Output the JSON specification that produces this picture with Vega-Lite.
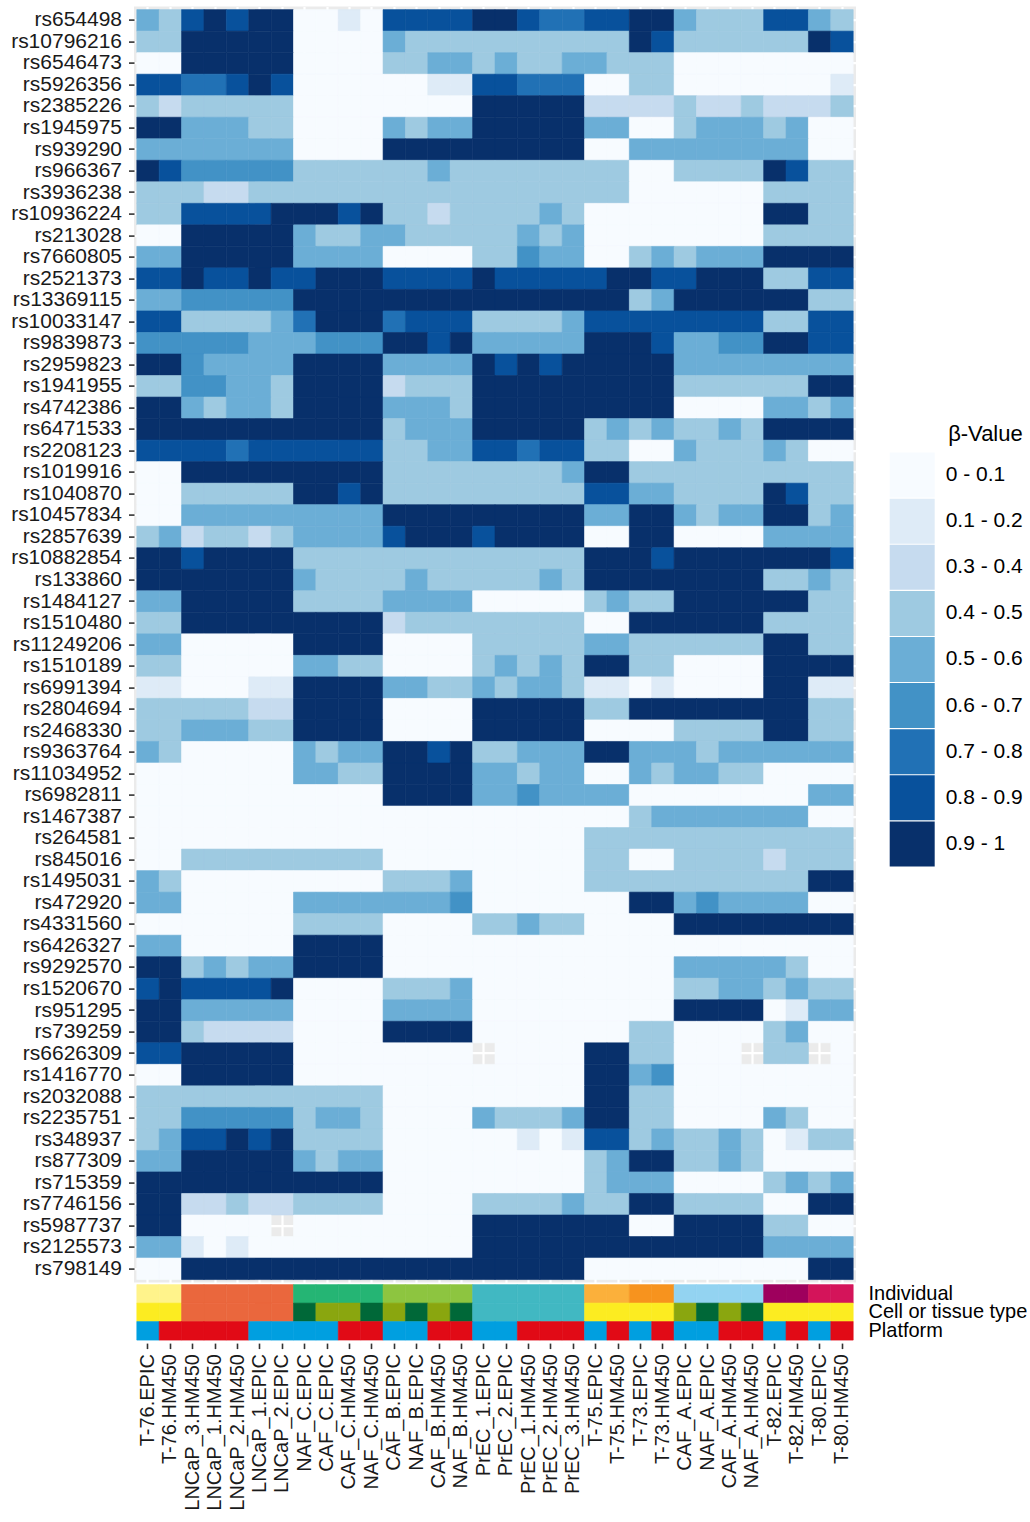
{
"$schema":"https://vega.github.io/schema/vega-lite/v6.json",
"padding":{"left":10,"top":6.6,"right":0,"bottom":0},
"config":{"font":"Liberation Sans","axis":{"labelFont":"Liberation Sans"},"legend":{"labelFont":"Liberation Sans","titleFont":"Liberation Sans"}},
"spacing":0,
"resolve":{"scale":{"color":"independent","stroke":"independent","x":"independent","y":"independent"},"legend":{"color":"independent","stroke":"independent"}},
"datasets":{
"snps":[{"r":0,"snp":"rs654498"},{"r":1,"snp":"rs10796216"},{"r":2,"snp":"rs6546473"},{"r":3,"snp":"rs5926356"},{"r":4,"snp":"rs2385226"},{"r":5,"snp":"rs1945975"},{"r":6,"snp":"rs939290"},{"r":7,"snp":"rs966367"},{"r":8,"snp":"rs3936238"},{"r":9,"snp":"rs10936224"},{"r":10,"snp":"rs213028"},{"r":11,"snp":"rs7660805"},{"r":12,"snp":"rs2521373"},{"r":13,"snp":"rs13369115"},{"r":14,"snp":"rs10033147"},{"r":15,"snp":"rs9839873"},{"r":16,"snp":"rs2959823"},{"r":17,"snp":"rs1941955"},{"r":18,"snp":"rs4742386"},{"r":19,"snp":"rs6471533"},{"r":20,"snp":"rs2208123"},{"r":21,"snp":"rs1019916"},{"r":22,"snp":"rs1040870"},{"r":23,"snp":"rs10457834"},{"r":24,"snp":"rs2857639"},{"r":25,"snp":"rs10882854"},{"r":26,"snp":"rs133860"},{"r":27,"snp":"rs1484127"},{"r":28,"snp":"rs1510480"},{"r":29,"snp":"rs11249206"},{"r":30,"snp":"rs1510189"},{"r":31,"snp":"rs6991394"},{"r":32,"snp":"rs2804694"},{"r":33,"snp":"rs2468330"},{"r":34,"snp":"rs9363764"},{"r":35,"snp":"rs11034952"},{"r":36,"snp":"rs6982811"},{"r":37,"snp":"rs1467387"},{"r":38,"snp":"rs264581"},{"r":39,"snp":"rs845016"},{"r":40,"snp":"rs1495031"},{"r":41,"snp":"rs472920"},{"r":42,"snp":"rs4331560"},{"r":43,"snp":"rs6426327"},{"r":44,"snp":"rs9292570"},{"r":45,"snp":"rs1520670"},{"r":46,"snp":"rs951295"},{"r":47,"snp":"rs739259"},{"r":48,"snp":"rs6626309"},{"r":49,"snp":"rs1416770"},{"r":50,"snp":"rs2032088"},{"r":51,"snp":"rs2235751"},{"r":52,"snp":"rs348937"},{"r":53,"snp":"rs877309"},{"r":54,"snp":"rs715359"},{"r":55,"snp":"rs7746156"},{"r":56,"snp":"rs5987737"},{"r":57,"snp":"rs2125573"},{"r":58,"snp":"rs798149"}],
"samples":[{"c":0,"sample":"T-76.EPIC"},{"c":1,"sample":"T-76.HM450"},{"c":2,"sample":"LNCaP_3.HM450"},{"c":3,"sample":"LNCaP_1.HM450"},{"c":4,"sample":"LNCaP_2.HM450"},{"c":5,"sample":"LNCaP_1.EPIC"},{"c":6,"sample":"LNCaP_2.EPIC"},{"c":7,"sample":"NAF_C.EPIC"},{"c":8,"sample":"CAF_C.EPIC"},{"c":9,"sample":"CAF_C.HM450"},{"c":10,"sample":"NAF_C.HM450"},{"c":11,"sample":"CAF_B.EPIC"},{"c":12,"sample":"NAF_B.EPIC"},{"c":13,"sample":"CAF_B.HM450"},{"c":14,"sample":"NAF_B.HM450"},{"c":15,"sample":"PrEC_1.EPIC"},{"c":16,"sample":"PrEC_2.EPIC"},{"c":17,"sample":"PrEC_1.HM450"},{"c":18,"sample":"PrEC_2.HM450"},{"c":19,"sample":"PrEC_3.HM450"},{"c":20,"sample":"T-75.EPIC"},{"c":21,"sample":"T-75.HM450"},{"c":22,"sample":"T-73.EPIC"},{"c":23,"sample":"T-73.HM450"},{"c":24,"sample":"CAF_A.EPIC"},{"c":25,"sample":"NAF_A.EPIC"},{"c":26,"sample":"CAF_A.HM450"},{"c":27,"sample":"NAF_A.HM450"},{"c":28,"sample":"T-82.EPIC"},{"c":29,"sample":"T-82.HM450"},{"c":30,"sample":"T-80.EPIC"},{"c":31,"sample":"T-80.HM450"}],
"annot":[
{"c":0,"t":"Individual","k":"T-76"},{"c":1,"t":"Individual","k":"T-76"},{"c":2,"t":"Individual","k":"LNCaP"},{"c":3,"t":"Individual","k":"LNCaP"},{"c":4,"t":"Individual","k":"LNCaP"},{"c":5,"t":"Individual","k":"LNCaP"},{"c":6,"t":"Individual","k":"LNCaP"},{"c":7,"t":"Individual","k":"Patient C"},{"c":8,"t":"Individual","k":"Patient C"},{"c":9,"t":"Individual","k":"Patient C"},{"c":10,"t":"Individual","k":"Patient C"},{"c":11,"t":"Individual","k":"Patient B"},{"c":12,"t":"Individual","k":"Patient B"},{"c":13,"t":"Individual","k":"Patient B"},{"c":14,"t":"Individual","k":"Patient B"},{"c":15,"t":"Individual","k":"PrEC"},{"c":16,"t":"Individual","k":"PrEC"},{"c":17,"t":"Individual","k":"PrEC"},{"c":18,"t":"Individual","k":"PrEC"},{"c":19,"t":"Individual","k":"PrEC"},{"c":20,"t":"Individual","k":"T-75"},{"c":21,"t":"Individual","k":"T-75"},{"c":22,"t":"Individual","k":"T-73"},{"c":23,"t":"Individual","k":"T-73"},{"c":24,"t":"Individual","k":"Patient A"},{"c":25,"t":"Individual","k":"Patient A"},{"c":26,"t":"Individual","k":"Patient A"},{"c":27,"t":"Individual","k":"Patient A"},{"c":28,"t":"Individual","k":"T-82"},{"c":29,"t":"Individual","k":"T-82"},{"c":30,"t":"Individual","k":"T-80"},{"c":31,"t":"Individual","k":"T-80"},
{"c":0,"t":"Cell or tissue type","k":"Tumour"},{"c":1,"t":"Cell or tissue type","k":"Tumour"},{"c":2,"t":"Cell or tissue type","k":"LNCaP"},{"c":3,"t":"Cell or tissue type","k":"LNCaP"},{"c":4,"t":"Cell or tissue type","k":"LNCaP"},{"c":5,"t":"Cell or tissue type","k":"LNCaP"},{"c":6,"t":"Cell or tissue type","k":"LNCaP"},{"c":7,"t":"Cell or tissue type","k":"NAF"},{"c":8,"t":"Cell or tissue type","k":"CAF"},{"c":9,"t":"Cell or tissue type","k":"CAF"},{"c":10,"t":"Cell or tissue type","k":"NAF"},{"c":11,"t":"Cell or tissue type","k":"CAF"},{"c":12,"t":"Cell or tissue type","k":"NAF"},{"c":13,"t":"Cell or tissue type","k":"CAF"},{"c":14,"t":"Cell or tissue type","k":"NAF"},{"c":15,"t":"Cell or tissue type","k":"PrEC"},{"c":16,"t":"Cell or tissue type","k":"PrEC"},{"c":17,"t":"Cell or tissue type","k":"PrEC"},{"c":18,"t":"Cell or tissue type","k":"PrEC"},{"c":19,"t":"Cell or tissue type","k":"PrEC"},{"c":20,"t":"Cell or tissue type","k":"Tumour"},{"c":21,"t":"Cell or tissue type","k":"Tumour"},{"c":22,"t":"Cell or tissue type","k":"Tumour"},{"c":23,"t":"Cell or tissue type","k":"Tumour"},{"c":24,"t":"Cell or tissue type","k":"CAF"},{"c":25,"t":"Cell or tissue type","k":"NAF"},{"c":26,"t":"Cell or tissue type","k":"CAF"},{"c":27,"t":"Cell or tissue type","k":"NAF"},{"c":28,"t":"Cell or tissue type","k":"Tumour"},{"c":29,"t":"Cell or tissue type","k":"Tumour"},{"c":30,"t":"Cell or tissue type","k":"Tumour"},{"c":31,"t":"Cell or tissue type","k":"Tumour"},
{"c":0,"t":"Platform","k":"EPIC"},{"c":1,"t":"Platform","k":"HM450"},{"c":2,"t":"Platform","k":"HM450"},{"c":3,"t":"Platform","k":"HM450"},{"c":4,"t":"Platform","k":"HM450"},{"c":5,"t":"Platform","k":"EPIC"},{"c":6,"t":"Platform","k":"EPIC"},{"c":7,"t":"Platform","k":"EPIC"},{"c":8,"t":"Platform","k":"EPIC"},{"c":9,"t":"Platform","k":"HM450"},{"c":10,"t":"Platform","k":"HM450"},{"c":11,"t":"Platform","k":"EPIC"},{"c":12,"t":"Platform","k":"EPIC"},{"c":13,"t":"Platform","k":"HM450"},{"c":14,"t":"Platform","k":"HM450"},{"c":15,"t":"Platform","k":"EPIC"},{"c":16,"t":"Platform","k":"EPIC"},{"c":17,"t":"Platform","k":"HM450"},{"c":18,"t":"Platform","k":"HM450"},{"c":19,"t":"Platform","k":"HM450"},{"c":20,"t":"Platform","k":"EPIC"},{"c":21,"t":"Platform","k":"HM450"},{"c":22,"t":"Platform","k":"EPIC"},{"c":23,"t":"Platform","k":"HM450"},{"c":24,"t":"Platform","k":"EPIC"},{"c":25,"t":"Platform","k":"EPIC"},{"c":26,"t":"Platform","k":"HM450"},{"c":27,"t":"Platform","k":"HM450"},{"c":28,"t":"Platform","k":"EPIC"},{"c":29,"t":"Platform","k":"HM450"},{"c":30,"t":"Platform","k":"EPIC"},{"c":31,"t":"Platform","k":"HM450"}],
"cells":[
{"r":0,"c":0,"v":5},{"r":0,"c":1,"v":4},{"r":0,"c":2,"v":8},{"r":0,"c":3,"v":9},{"r":0,"c":4,"v":8},{"r":0,"c":5,"v":9},{"r":0,"c":6,"v":9},{"r":0,"c":7,"v":0},{"r":0,"c":8,"v":0},{"r":0,"c":9,"v":1},{"r":0,"c":10,"v":0},{"r":0,"c":11,"v":8},{"r":0,"c":12,"v":8},{"r":0,"c":13,"v":8},{"r":0,"c":14,"v":8},{"r":0,"c":15,"v":9},{"r":0,"c":16,"v":9},{"r":0,"c":17,"v":8},{"r":0,"c":18,"v":7},{"r":0,"c":19,"v":7},{"r":0,"c":20,"v":8},{"r":0,"c":21,"v":8},{"r":0,"c":22,"v":9},{"r":0,"c":23,"v":9},{"r":0,"c":24,"v":5},{"r":0,"c":25,"v":4},{"r":0,"c":26,"v":4},{"r":0,"c":27,"v":4},{"r":0,"c":28,"v":8},{"r":0,"c":29,"v":8},{"r":0,"c":30,"v":5},{"r":0,"c":31,"v":4},
{"r":1,"c":0,"v":4},{"r":1,"c":1,"v":4},{"r":1,"c":2,"v":9},{"r":1,"c":3,"v":9},{"r":1,"c":4,"v":9},{"r":1,"c":5,"v":9},{"r":1,"c":6,"v":9},{"r":1,"c":7,"v":0},{"r":1,"c":8,"v":0},{"r":1,"c":9,"v":0},{"r":1,"c":10,"v":0},{"r":1,"c":11,"v":5},{"r":1,"c":12,"v":4},{"r":1,"c":13,"v":4},{"r":1,"c":14,"v":4},{"r":1,"c":15,"v":4},{"r":1,"c":16,"v":4},{"r":1,"c":17,"v":4},{"r":1,"c":18,"v":4},{"r":1,"c":19,"v":4},{"r":1,"c":20,"v":4},{"r":1,"c":21,"v":4},{"r":1,"c":22,"v":9},{"r":1,"c":23,"v":8},{"r":1,"c":24,"v":4},{"r":1,"c":25,"v":4},{"r":1,"c":26,"v":4},{"r":1,"c":27,"v":4},{"r":1,"c":28,"v":4},{"r":1,"c":29,"v":4},{"r":1,"c":30,"v":9},{"r":1,"c":31,"v":8},
{"r":2,"c":0,"v":0},{"r":2,"c":1,"v":0},{"r":2,"c":2,"v":9},{"r":2,"c":3,"v":9},{"r":2,"c":4,"v":9},{"r":2,"c":5,"v":9},{"r":2,"c":6,"v":9},{"r":2,"c":7,"v":0},{"r":2,"c":8,"v":0},{"r":2,"c":9,"v":0},{"r":2,"c":10,"v":0},{"r":2,"c":11,"v":4},{"r":2,"c":12,"v":4},{"r":2,"c":13,"v":5},{"r":2,"c":14,"v":5},{"r":2,"c":15,"v":4},{"r":2,"c":16,"v":5},{"r":2,"c":17,"v":4},{"r":2,"c":18,"v":4},{"r":2,"c":19,"v":5},{"r":2,"c":20,"v":5},{"r":2,"c":21,"v":4},{"r":2,"c":22,"v":4},{"r":2,"c":23,"v":4},{"r":2,"c":24,"v":0},{"r":2,"c":25,"v":0},{"r":2,"c":26,"v":0},{"r":2,"c":27,"v":0},{"r":2,"c":28,"v":0},{"r":2,"c":29,"v":0},{"r":2,"c":30,"v":0},{"r":2,"c":31,"v":0},
{"r":3,"c":0,"v":8},{"r":3,"c":1,"v":8},{"r":3,"c":2,"v":7},{"r":3,"c":3,"v":7},{"r":3,"c":4,"v":8},{"r":3,"c":5,"v":9},{"r":3,"c":6,"v":8},{"r":3,"c":7,"v":0},{"r":3,"c":8,"v":0},{"r":3,"c":9,"v":0},{"r":3,"c":10,"v":0},{"r":3,"c":11,"v":0},{"r":3,"c":12,"v":0},{"r":3,"c":13,"v":1},{"r":3,"c":14,"v":1},{"r":3,"c":15,"v":8},{"r":3,"c":16,"v":8},{"r":3,"c":17,"v":7},{"r":3,"c":18,"v":7},{"r":3,"c":19,"v":7},{"r":3,"c":20,"v":0},{"r":3,"c":21,"v":0},{"r":3,"c":22,"v":4},{"r":3,"c":23,"v":4},{"r":3,"c":24,"v":0},{"r":3,"c":25,"v":0},{"r":3,"c":26,"v":0},{"r":3,"c":27,"v":0},{"r":3,"c":28,"v":0},{"r":3,"c":29,"v":0},{"r":3,"c":30,"v":0},{"r":3,"c":31,"v":1},
{"r":4,"c":0,"v":4},{"r":4,"c":1,"v":3},{"r":4,"c":2,"v":4},{"r":4,"c":3,"v":4},{"r":4,"c":4,"v":4},{"r":4,"c":5,"v":4},{"r":4,"c":6,"v":4},{"r":4,"c":7,"v":0},{"r":4,"c":8,"v":0},{"r":4,"c":9,"v":0},{"r":4,"c":10,"v":0},{"r":4,"c":11,"v":0},{"r":4,"c":12,"v":0},{"r":4,"c":13,"v":0},{"r":4,"c":14,"v":0},{"r":4,"c":15,"v":9},{"r":4,"c":16,"v":9},{"r":4,"c":17,"v":9},{"r":4,"c":18,"v":9},{"r":4,"c":19,"v":9},{"r":4,"c":20,"v":3},{"r":4,"c":21,"v":3},{"r":4,"c":22,"v":3},{"r":4,"c":23,"v":3},{"r":4,"c":24,"v":4},{"r":4,"c":25,"v":3},{"r":4,"c":26,"v":3},{"r":4,"c":27,"v":4},{"r":4,"c":28,"v":3},{"r":4,"c":29,"v":3},{"r":4,"c":30,"v":3},{"r":4,"c":31,"v":4},
{"r":5,"c":0,"v":9},{"r":5,"c":1,"v":9},{"r":5,"c":2,"v":5},{"r":5,"c":3,"v":5},{"r":5,"c":4,"v":5},{"r":5,"c":5,"v":4},{"r":5,"c":6,"v":4},{"r":5,"c":7,"v":0},{"r":5,"c":8,"v":0},{"r":5,"c":9,"v":0},{"r":5,"c":10,"v":0},{"r":5,"c":11,"v":5},{"r":5,"c":12,"v":4},{"r":5,"c":13,"v":5},{"r":5,"c":14,"v":5},{"r":5,"c":15,"v":9},{"r":5,"c":16,"v":9},{"r":5,"c":17,"v":9},{"r":5,"c":18,"v":9},{"r":5,"c":19,"v":9},{"r":5,"c":20,"v":5},{"r":5,"c":21,"v":5},{"r":5,"c":22,"v":0},{"r":5,"c":23,"v":0},{"r":5,"c":24,"v":4},{"r":5,"c":25,"v":5},{"r":5,"c":26,"v":5},{"r":5,"c":27,"v":5},{"r":5,"c":28,"v":4},{"r":5,"c":29,"v":5},{"r":5,"c":30,"v":0},{"r":5,"c":31,"v":0},
{"r":6,"c":0,"v":5},{"r":6,"c":1,"v":5},{"r":6,"c":2,"v":5},{"r":6,"c":3,"v":5},{"r":6,"c":4,"v":5},{"r":6,"c":5,"v":5},{"r":6,"c":6,"v":5},{"r":6,"c":7,"v":0},{"r":6,"c":8,"v":0},{"r":6,"c":9,"v":0},{"r":6,"c":10,"v":0},{"r":6,"c":11,"v":9},{"r":6,"c":12,"v":9},{"r":6,"c":13,"v":9},{"r":6,"c":14,"v":9},{"r":6,"c":15,"v":9},{"r":6,"c":16,"v":9},{"r":6,"c":17,"v":9},{"r":6,"c":18,"v":9},{"r":6,"c":19,"v":9},{"r":6,"c":20,"v":0},{"r":6,"c":21,"v":0},{"r":6,"c":22,"v":5},{"r":6,"c":23,"v":5},{"r":6,"c":24,"v":5},{"r":6,"c":25,"v":5},{"r":6,"c":26,"v":5},{"r":6,"c":27,"v":5},{"r":6,"c":28,"v":5},{"r":6,"c":29,"v":5},{"r":6,"c":30,"v":0},{"r":6,"c":31,"v":0},
{"r":7,"c":0,"v":9},{"r":7,"c":1,"v":8},{"r":7,"c":2,"v":6},{"r":7,"c":3,"v":6},{"r":7,"c":4,"v":6},{"r":7,"c":5,"v":6},{"r":7,"c":6,"v":6},{"r":7,"c":7,"v":4},{"r":7,"c":8,"v":4},{"r":7,"c":9,"v":4},{"r":7,"c":10,"v":4},{"r":7,"c":11,"v":4},{"r":7,"c":12,"v":4},{"r":7,"c":13,"v":5},{"r":7,"c":14,"v":4},{"r":7,"c":15,"v":4},{"r":7,"c":16,"v":4},{"r":7,"c":17,"v":4},{"r":7,"c":18,"v":4},{"r":7,"c":19,"v":4},{"r":7,"c":20,"v":4},{"r":7,"c":21,"v":4},{"r":7,"c":22,"v":0},{"r":7,"c":23,"v":0},{"r":7,"c":24,"v":4},{"r":7,"c":25,"v":4},{"r":7,"c":26,"v":4},{"r":7,"c":27,"v":4},{"r":7,"c":28,"v":9},{"r":7,"c":29,"v":8},{"r":7,"c":30,"v":4},{"r":7,"c":31,"v":4},
{"r":8,"c":0,"v":4},{"r":8,"c":1,"v":4},{"r":8,"c":2,"v":4},{"r":8,"c":3,"v":3},{"r":8,"c":4,"v":3},{"r":8,"c":5,"v":4},{"r":8,"c":6,"v":4},{"r":8,"c":7,"v":4},{"r":8,"c":8,"v":4},{"r":8,"c":9,"v":4},{"r":8,"c":10,"v":4},{"r":8,"c":11,"v":4},{"r":8,"c":12,"v":4},{"r":8,"c":13,"v":4},{"r":8,"c":14,"v":4},{"r":8,"c":15,"v":4},{"r":8,"c":16,"v":4},{"r":8,"c":17,"v":4},{"r":8,"c":18,"v":4},{"r":8,"c":19,"v":4},{"r":8,"c":20,"v":4},{"r":8,"c":21,"v":4},{"r":8,"c":22,"v":0},{"r":8,"c":23,"v":0},{"r":8,"c":24,"v":0},{"r":8,"c":25,"v":0},{"r":8,"c":26,"v":0},{"r":8,"c":27,"v":0},{"r":8,"c":28,"v":4},{"r":8,"c":29,"v":4},{"r":8,"c":30,"v":4},{"r":8,"c":31,"v":4},
{"r":9,"c":0,"v":4},{"r":9,"c":1,"v":4},{"r":9,"c":2,"v":8},{"r":9,"c":3,"v":8},{"r":9,"c":4,"v":8},{"r":9,"c":5,"v":8},{"r":9,"c":6,"v":9},{"r":9,"c":7,"v":9},{"r":9,"c":8,"v":9},{"r":9,"c":9,"v":8},{"r":9,"c":10,"v":9},{"r":9,"c":11,"v":4},{"r":9,"c":12,"v":4},{"r":9,"c":13,"v":3},{"r":9,"c":14,"v":4},{"r":9,"c":15,"v":4},{"r":9,"c":16,"v":4},{"r":9,"c":17,"v":4},{"r":9,"c":18,"v":5},{"r":9,"c":19,"v":4},{"r":9,"c":20,"v":0},{"r":9,"c":21,"v":0},{"r":9,"c":22,"v":0},{"r":9,"c":23,"v":0},{"r":9,"c":24,"v":0},{"r":9,"c":25,"v":0},{"r":9,"c":26,"v":0},{"r":9,"c":27,"v":0},{"r":9,"c":28,"v":9},{"r":9,"c":29,"v":9},{"r":9,"c":30,"v":4},{"r":9,"c":31,"v":4},
{"r":10,"c":0,"v":0},{"r":10,"c":1,"v":0},{"r":10,"c":2,"v":9},{"r":10,"c":3,"v":9},{"r":10,"c":4,"v":9},{"r":10,"c":5,"v":9},{"r":10,"c":6,"v":9},{"r":10,"c":7,"v":5},{"r":10,"c":8,"v":4},{"r":10,"c":9,"v":4},{"r":10,"c":10,"v":5},{"r":10,"c":11,"v":5},{"r":10,"c":12,"v":4},{"r":10,"c":13,"v":4},{"r":10,"c":14,"v":4},{"r":10,"c":15,"v":4},{"r":10,"c":16,"v":4},{"r":10,"c":17,"v":5},{"r":10,"c":18,"v":4},{"r":10,"c":19,"v":5},{"r":10,"c":20,"v":0},{"r":10,"c":21,"v":0},{"r":10,"c":22,"v":0},{"r":10,"c":23,"v":0},{"r":10,"c":24,"v":0},{"r":10,"c":25,"v":0},{"r":10,"c":26,"v":0},{"r":10,"c":27,"v":0},{"r":10,"c":28,"v":4},{"r":10,"c":29,"v":4},{"r":10,"c":30,"v":4},{"r":10,"c":31,"v":4},
{"r":11,"c":0,"v":5},{"r":11,"c":1,"v":5},{"r":11,"c":2,"v":9},{"r":11,"c":3,"v":9},{"r":11,"c":4,"v":9},{"r":11,"c":5,"v":9},{"r":11,"c":6,"v":9},{"r":11,"c":7,"v":5},{"r":11,"c":8,"v":5},{"r":11,"c":9,"v":5},{"r":11,"c":10,"v":5},{"r":11,"c":11,"v":0},{"r":11,"c":12,"v":0},{"r":11,"c":13,"v":0},{"r":11,"c":14,"v":0},{"r":11,"c":15,"v":4},{"r":11,"c":16,"v":4},{"r":11,"c":17,"v":6},{"r":11,"c":18,"v":5},{"r":11,"c":19,"v":5},{"r":11,"c":20,"v":0},{"r":11,"c":21,"v":0},{"r":11,"c":22,"v":4},{"r":11,"c":23,"v":5},{"r":11,"c":24,"v":4},{"r":11,"c":25,"v":5},{"r":11,"c":26,"v":5},{"r":11,"c":27,"v":5},{"r":11,"c":28,"v":9},{"r":11,"c":29,"v":9},{"r":11,"c":30,"v":9},{"r":11,"c":31,"v":9},
{"r":12,"c":0,"v":8},{"r":12,"c":1,"v":8},{"r":12,"c":2,"v":9},{"r":12,"c":3,"v":8},{"r":12,"c":4,"v":8},{"r":12,"c":5,"v":9},{"r":12,"c":6,"v":8},{"r":12,"c":7,"v":8},{"r":12,"c":8,"v":9},{"r":12,"c":9,"v":9},{"r":12,"c":10,"v":9},{"r":12,"c":11,"v":8},{"r":12,"c":12,"v":8},{"r":12,"c":13,"v":8},{"r":12,"c":14,"v":8},{"r":12,"c":15,"v":9},{"r":12,"c":16,"v":8},{"r":12,"c":17,"v":8},{"r":12,"c":18,"v":8},{"r":12,"c":19,"v":8},{"r":12,"c":20,"v":8},{"r":12,"c":21,"v":9},{"r":12,"c":22,"v":9},{"r":12,"c":23,"v":8},{"r":12,"c":24,"v":8},{"r":12,"c":25,"v":9},{"r":12,"c":26,"v":9},{"r":12,"c":27,"v":9},{"r":12,"c":28,"v":4},{"r":12,"c":29,"v":4},{"r":12,"c":30,"v":8},{"r":12,"c":31,"v":8},
{"r":13,"c":0,"v":5},{"r":13,"c":1,"v":5},{"r":13,"c":2,"v":6},{"r":13,"c":3,"v":6},{"r":13,"c":4,"v":6},{"r":13,"c":5,"v":6},{"r":13,"c":6,"v":6},{"r":13,"c":7,"v":9},{"r":13,"c":8,"v":9},{"r":13,"c":9,"v":9},{"r":13,"c":10,"v":9},{"r":13,"c":11,"v":9},{"r":13,"c":12,"v":9},{"r":13,"c":13,"v":9},{"r":13,"c":14,"v":9},{"r":13,"c":15,"v":9},{"r":13,"c":16,"v":9},{"r":13,"c":17,"v":9},{"r":13,"c":18,"v":9},{"r":13,"c":19,"v":9},{"r":13,"c":20,"v":9},{"r":13,"c":21,"v":9},{"r":13,"c":22,"v":4},{"r":13,"c":23,"v":5},{"r":13,"c":24,"v":9},{"r":13,"c":25,"v":9},{"r":13,"c":26,"v":9},{"r":13,"c":27,"v":9},{"r":13,"c":28,"v":9},{"r":13,"c":29,"v":9},{"r":13,"c":30,"v":4},{"r":13,"c":31,"v":4},
{"r":14,"c":0,"v":8},{"r":14,"c":1,"v":8},{"r":14,"c":2,"v":4},{"r":14,"c":3,"v":4},{"r":14,"c":4,"v":4},{"r":14,"c":5,"v":4},{"r":14,"c":6,"v":5},{"r":14,"c":7,"v":7},{"r":14,"c":8,"v":9},{"r":14,"c":9,"v":9},{"r":14,"c":10,"v":9},{"r":14,"c":11,"v":7},{"r":14,"c":12,"v":8},{"r":14,"c":13,"v":8},{"r":14,"c":14,"v":8},{"r":14,"c":15,"v":4},{"r":14,"c":16,"v":4},{"r":14,"c":17,"v":4},{"r":14,"c":18,"v":4},{"r":14,"c":19,"v":5},{"r":14,"c":20,"v":8},{"r":14,"c":21,"v":8},{"r":14,"c":22,"v":8},{"r":14,"c":23,"v":8},{"r":14,"c":24,"v":8},{"r":14,"c":25,"v":8},{"r":14,"c":26,"v":8},{"r":14,"c":27,"v":8},{"r":14,"c":28,"v":4},{"r":14,"c":29,"v":4},{"r":14,"c":30,"v":8},{"r":14,"c":31,"v":8},
{"r":15,"c":0,"v":6},{"r":15,"c":1,"v":6},{"r":15,"c":2,"v":6},{"r":15,"c":3,"v":6},{"r":15,"c":4,"v":6},{"r":15,"c":5,"v":5},{"r":15,"c":6,"v":5},{"r":15,"c":7,"v":5},{"r":15,"c":8,"v":6},{"r":15,"c":9,"v":6},{"r":15,"c":10,"v":6},{"r":15,"c":11,"v":9},{"r":15,"c":12,"v":9},{"r":15,"c":13,"v":8},{"r":15,"c":14,"v":9},{"r":15,"c":15,"v":5},{"r":15,"c":16,"v":5},{"r":15,"c":17,"v":5},{"r":15,"c":18,"v":5},{"r":15,"c":19,"v":5},{"r":15,"c":20,"v":9},{"r":15,"c":21,"v":9},{"r":15,"c":22,"v":9},{"r":15,"c":23,"v":8},{"r":15,"c":24,"v":5},{"r":15,"c":25,"v":5},{"r":15,"c":26,"v":6},{"r":15,"c":27,"v":6},{"r":15,"c":28,"v":9},{"r":15,"c":29,"v":9},{"r":15,"c":30,"v":8},{"r":15,"c":31,"v":8},
{"r":16,"c":0,"v":9},{"r":16,"c":1,"v":9},{"r":16,"c":2,"v":6},{"r":16,"c":3,"v":5},{"r":16,"c":4,"v":5},{"r":16,"c":5,"v":5},{"r":16,"c":6,"v":5},{"r":16,"c":7,"v":9},{"r":16,"c":8,"v":9},{"r":16,"c":9,"v":9},{"r":16,"c":10,"v":9},{"r":16,"c":11,"v":5},{"r":16,"c":12,"v":5},{"r":16,"c":13,"v":5},{"r":16,"c":14,"v":5},{"r":16,"c":15,"v":9},{"r":16,"c":16,"v":8},{"r":16,"c":17,"v":9},{"r":16,"c":18,"v":8},{"r":16,"c":19,"v":9},{"r":16,"c":20,"v":9},{"r":16,"c":21,"v":9},{"r":16,"c":22,"v":9},{"r":16,"c":23,"v":9},{"r":16,"c":24,"v":5},{"r":16,"c":25,"v":5},{"r":16,"c":26,"v":5},{"r":16,"c":27,"v":5},{"r":16,"c":28,"v":5},{"r":16,"c":29,"v":5},{"r":16,"c":30,"v":5},{"r":16,"c":31,"v":5},
{"r":17,"c":0,"v":4},{"r":17,"c":1,"v":4},{"r":17,"c":2,"v":6},{"r":17,"c":3,"v":6},{"r":17,"c":4,"v":5},{"r":17,"c":5,"v":5},{"r":17,"c":6,"v":4},{"r":17,"c":7,"v":9},{"r":17,"c":8,"v":9},{"r":17,"c":9,"v":9},{"r":17,"c":10,"v":9},{"r":17,"c":11,"v":3},{"r":17,"c":12,"v":4},{"r":17,"c":13,"v":4},{"r":17,"c":14,"v":4},{"r":17,"c":15,"v":9},{"r":17,"c":16,"v":9},{"r":17,"c":17,"v":9},{"r":17,"c":18,"v":9},{"r":17,"c":19,"v":9},{"r":17,"c":20,"v":9},{"r":17,"c":21,"v":9},{"r":17,"c":22,"v":9},{"r":17,"c":23,"v":9},{"r":17,"c":24,"v":4},{"r":17,"c":25,"v":4},{"r":17,"c":26,"v":4},{"r":17,"c":27,"v":4},{"r":17,"c":28,"v":4},{"r":17,"c":29,"v":4},{"r":17,"c":30,"v":9},{"r":17,"c":31,"v":9},
{"r":18,"c":0,"v":9},{"r":18,"c":1,"v":9},{"r":18,"c":2,"v":5},{"r":18,"c":3,"v":4},{"r":18,"c":4,"v":5},{"r":18,"c":5,"v":5},{"r":18,"c":6,"v":4},{"r":18,"c":7,"v":9},{"r":18,"c":8,"v":9},{"r":18,"c":9,"v":9},{"r":18,"c":10,"v":9},{"r":18,"c":11,"v":5},{"r":18,"c":12,"v":5},{"r":18,"c":13,"v":5},{"r":18,"c":14,"v":4},{"r":18,"c":15,"v":9},{"r":18,"c":16,"v":9},{"r":18,"c":17,"v":9},{"r":18,"c":18,"v":9},{"r":18,"c":19,"v":9},{"r":18,"c":20,"v":9},{"r":18,"c":21,"v":9},{"r":18,"c":22,"v":9},{"r":18,"c":23,"v":9},{"r":18,"c":24,"v":0},{"r":18,"c":25,"v":0},{"r":18,"c":26,"v":0},{"r":18,"c":27,"v":0},{"r":18,"c":28,"v":5},{"r":18,"c":29,"v":5},{"r":18,"c":30,"v":4},{"r":18,"c":31,"v":5},
{"r":19,"c":0,"v":9},{"r":19,"c":1,"v":9},{"r":19,"c":2,"v":9},{"r":19,"c":3,"v":9},{"r":19,"c":4,"v":9},{"r":19,"c":5,"v":9},{"r":19,"c":6,"v":9},{"r":19,"c":7,"v":9},{"r":19,"c":8,"v":9},{"r":19,"c":9,"v":9},{"r":19,"c":10,"v":9},{"r":19,"c":11,"v":4},{"r":19,"c":12,"v":5},{"r":19,"c":13,"v":5},{"r":19,"c":14,"v":5},{"r":19,"c":15,"v":9},{"r":19,"c":16,"v":9},{"r":19,"c":17,"v":9},{"r":19,"c":18,"v":9},{"r":19,"c":19,"v":9},{"r":19,"c":20,"v":4},{"r":19,"c":21,"v":5},{"r":19,"c":22,"v":4},{"r":19,"c":23,"v":5},{"r":19,"c":24,"v":4},{"r":19,"c":25,"v":4},{"r":19,"c":26,"v":5},{"r":19,"c":27,"v":4},{"r":19,"c":28,"v":9},{"r":19,"c":29,"v":9},{"r":19,"c":30,"v":9},{"r":19,"c":31,"v":9},
{"r":20,"c":0,"v":8},{"r":20,"c":1,"v":8},{"r":20,"c":2,"v":8},{"r":20,"c":3,"v":8},{"r":20,"c":4,"v":7},{"r":20,"c":5,"v":8},{"r":20,"c":6,"v":8},{"r":20,"c":7,"v":8},{"r":20,"c":8,"v":8},{"r":20,"c":9,"v":8},{"r":20,"c":10,"v":8},{"r":20,"c":11,"v":4},{"r":20,"c":12,"v":4},{"r":20,"c":13,"v":5},{"r":20,"c":14,"v":5},{"r":20,"c":15,"v":8},{"r":20,"c":16,"v":8},{"r":20,"c":17,"v":7},{"r":20,"c":18,"v":8},{"r":20,"c":19,"v":8},{"r":20,"c":20,"v":4},{"r":20,"c":21,"v":4},{"r":20,"c":22,"v":0},{"r":20,"c":23,"v":0},{"r":20,"c":24,"v":5},{"r":20,"c":25,"v":4},{"r":20,"c":26,"v":4},{"r":20,"c":27,"v":4},{"r":20,"c":28,"v":5},{"r":20,"c":29,"v":4},{"r":20,"c":30,"v":0},{"r":20,"c":31,"v":0},
{"r":21,"c":0,"v":0},{"r":21,"c":1,"v":0},{"r":21,"c":2,"v":9},{"r":21,"c":3,"v":9},{"r":21,"c":4,"v":9},{"r":21,"c":5,"v":9},{"r":21,"c":6,"v":9},{"r":21,"c":7,"v":9},{"r":21,"c":8,"v":9},{"r":21,"c":9,"v":9},{"r":21,"c":10,"v":9},{"r":21,"c":11,"v":4},{"r":21,"c":12,"v":4},{"r":21,"c":13,"v":4},{"r":21,"c":14,"v":4},{"r":21,"c":15,"v":4},{"r":21,"c":16,"v":4},{"r":21,"c":17,"v":4},{"r":21,"c":18,"v":4},{"r":21,"c":19,"v":5},{"r":21,"c":20,"v":9},{"r":21,"c":21,"v":9},{"r":21,"c":22,"v":4},{"r":21,"c":23,"v":4},{"r":21,"c":24,"v":4},{"r":21,"c":25,"v":4},{"r":21,"c":26,"v":4},{"r":21,"c":27,"v":4},{"r":21,"c":28,"v":4},{"r":21,"c":29,"v":4},{"r":21,"c":30,"v":4},{"r":21,"c":31,"v":4},
{"r":22,"c":0,"v":0},{"r":22,"c":1,"v":0},{"r":22,"c":2,"v":4},{"r":22,"c":3,"v":4},{"r":22,"c":4,"v":4},{"r":22,"c":5,"v":4},{"r":22,"c":6,"v":4},{"r":22,"c":7,"v":9},{"r":22,"c":8,"v":9},{"r":22,"c":9,"v":8},{"r":22,"c":10,"v":9},{"r":22,"c":11,"v":4},{"r":22,"c":12,"v":4},{"r":22,"c":13,"v":4},{"r":22,"c":14,"v":4},{"r":22,"c":15,"v":4},{"r":22,"c":16,"v":4},{"r":22,"c":17,"v":4},{"r":22,"c":18,"v":4},{"r":22,"c":19,"v":4},{"r":22,"c":20,"v":8},{"r":22,"c":21,"v":8},{"r":22,"c":22,"v":5},{"r":22,"c":23,"v":5},{"r":22,"c":24,"v":4},{"r":22,"c":25,"v":4},{"r":22,"c":26,"v":4},{"r":22,"c":27,"v":4},{"r":22,"c":28,"v":9},{"r":22,"c":29,"v":8},{"r":22,"c":30,"v":4},{"r":22,"c":31,"v":4},
{"r":23,"c":0,"v":0},{"r":23,"c":1,"v":0},{"r":23,"c":2,"v":5},{"r":23,"c":3,"v":5},{"r":23,"c":4,"v":5},{"r":23,"c":5,"v":5},{"r":23,"c":6,"v":5},{"r":23,"c":7,"v":5},{"r":23,"c":8,"v":5},{"r":23,"c":9,"v":5},{"r":23,"c":10,"v":5},{"r":23,"c":11,"v":9},{"r":23,"c":12,"v":9},{"r":23,"c":13,"v":9},{"r":23,"c":14,"v":9},{"r":23,"c":15,"v":9},{"r":23,"c":16,"v":9},{"r":23,"c":17,"v":9},{"r":23,"c":18,"v":9},{"r":23,"c":19,"v":9},{"r":23,"c":20,"v":5},{"r":23,"c":21,"v":5},{"r":23,"c":22,"v":9},{"r":23,"c":23,"v":9},{"r":23,"c":24,"v":5},{"r":23,"c":25,"v":4},{"r":23,"c":26,"v":5},{"r":23,"c":27,"v":5},{"r":23,"c":28,"v":9},{"r":23,"c":29,"v":9},{"r":23,"c":30,"v":4},{"r":23,"c":31,"v":5},
{"r":24,"c":0,"v":4},{"r":24,"c":1,"v":5},{"r":24,"c":2,"v":3},{"r":24,"c":3,"v":4},{"r":24,"c":4,"v":4},{"r":24,"c":5,"v":3},{"r":24,"c":6,"v":4},{"r":24,"c":7,"v":5},{"r":24,"c":8,"v":5},{"r":24,"c":9,"v":5},{"r":24,"c":10,"v":5},{"r":24,"c":11,"v":8},{"r":24,"c":12,"v":9},{"r":24,"c":13,"v":9},{"r":24,"c":14,"v":9},{"r":24,"c":15,"v":8},{"r":24,"c":16,"v":9},{"r":24,"c":17,"v":9},{"r":24,"c":18,"v":9},{"r":24,"c":19,"v":9},{"r":24,"c":20,"v":0},{"r":24,"c":21,"v":0},{"r":24,"c":22,"v":9},{"r":24,"c":23,"v":9},{"r":24,"c":24,"v":0},{"r":24,"c":25,"v":0},{"r":24,"c":26,"v":0},{"r":24,"c":27,"v":0},{"r":24,"c":28,"v":5},{"r":24,"c":29,"v":5},{"r":24,"c":30,"v":5},{"r":24,"c":31,"v":5},
{"r":25,"c":0,"v":9},{"r":25,"c":1,"v":9},{"r":25,"c":2,"v":8},{"r":25,"c":3,"v":9},{"r":25,"c":4,"v":9},{"r":25,"c":5,"v":9},{"r":25,"c":6,"v":9},{"r":25,"c":7,"v":4},{"r":25,"c":8,"v":4},{"r":25,"c":9,"v":4},{"r":25,"c":10,"v":4},{"r":25,"c":11,"v":4},{"r":25,"c":12,"v":4},{"r":25,"c":13,"v":4},{"r":25,"c":14,"v":4},{"r":25,"c":15,"v":4},{"r":25,"c":16,"v":4},{"r":25,"c":17,"v":4},{"r":25,"c":18,"v":4},{"r":25,"c":19,"v":4},{"r":25,"c":20,"v":9},{"r":25,"c":21,"v":9},{"r":25,"c":22,"v":9},{"r":25,"c":23,"v":8},{"r":25,"c":24,"v":9},{"r":25,"c":25,"v":9},{"r":25,"c":26,"v":9},{"r":25,"c":27,"v":9},{"r":25,"c":28,"v":9},{"r":25,"c":29,"v":9},{"r":25,"c":30,"v":9},{"r":25,"c":31,"v":8},
{"r":26,"c":0,"v":9},{"r":26,"c":1,"v":9},{"r":26,"c":2,"v":9},{"r":26,"c":3,"v":9},{"r":26,"c":4,"v":9},{"r":26,"c":5,"v":9},{"r":26,"c":6,"v":9},{"r":26,"c":7,"v":5},{"r":26,"c":8,"v":4},{"r":26,"c":9,"v":4},{"r":26,"c":10,"v":4},{"r":26,"c":11,"v":4},{"r":26,"c":12,"v":5},{"r":26,"c":13,"v":4},{"r":26,"c":14,"v":4},{"r":26,"c":15,"v":4},{"r":26,"c":16,"v":4},{"r":26,"c":17,"v":4},{"r":26,"c":18,"v":5},{"r":26,"c":19,"v":4},{"r":26,"c":20,"v":9},{"r":26,"c":21,"v":9},{"r":26,"c":22,"v":9},{"r":26,"c":23,"v":9},{"r":26,"c":24,"v":9},{"r":26,"c":25,"v":9},{"r":26,"c":26,"v":9},{"r":26,"c":27,"v":9},{"r":26,"c":28,"v":4},{"r":26,"c":29,"v":4},{"r":26,"c":30,"v":5},{"r":26,"c":31,"v":4},
{"r":27,"c":0,"v":5},{"r":27,"c":1,"v":5},{"r":27,"c":2,"v":9},{"r":27,"c":3,"v":9},{"r":27,"c":4,"v":9},{"r":27,"c":5,"v":9},{"r":27,"c":6,"v":9},{"r":27,"c":7,"v":4},{"r":27,"c":8,"v":4},{"r":27,"c":9,"v":4},{"r":27,"c":10,"v":4},{"r":27,"c":11,"v":5},{"r":27,"c":12,"v":5},{"r":27,"c":13,"v":5},{"r":27,"c":14,"v":5},{"r":27,"c":15,"v":0},{"r":27,"c":16,"v":0},{"r":27,"c":17,"v":0},{"r":27,"c":18,"v":0},{"r":27,"c":19,"v":0},{"r":27,"c":20,"v":4},{"r":27,"c":21,"v":5},{"r":27,"c":22,"v":4},{"r":27,"c":23,"v":4},{"r":27,"c":24,"v":9},{"r":27,"c":25,"v":9},{"r":27,"c":26,"v":9},{"r":27,"c":27,"v":9},{"r":27,"c":28,"v":9},{"r":27,"c":29,"v":9},{"r":27,"c":30,"v":4},{"r":27,"c":31,"v":4},
{"r":28,"c":0,"v":4},{"r":28,"c":1,"v":4},{"r":28,"c":2,"v":9},{"r":28,"c":3,"v":9},{"r":28,"c":4,"v":9},{"r":28,"c":5,"v":9},{"r":28,"c":6,"v":9},{"r":28,"c":7,"v":9},{"r":28,"c":8,"v":9},{"r":28,"c":9,"v":9},{"r":28,"c":10,"v":9},{"r":28,"c":11,"v":3},{"r":28,"c":12,"v":4},{"r":28,"c":13,"v":4},{"r":28,"c":14,"v":4},{"r":28,"c":15,"v":4},{"r":28,"c":16,"v":4},{"r":28,"c":17,"v":4},{"r":28,"c":18,"v":4},{"r":28,"c":19,"v":4},{"r":28,"c":20,"v":0},{"r":28,"c":21,"v":0},{"r":28,"c":22,"v":9},{"r":28,"c":23,"v":9},{"r":28,"c":24,"v":9},{"r":28,"c":25,"v":9},{"r":28,"c":26,"v":9},{"r":28,"c":27,"v":9},{"r":28,"c":28,"v":4},{"r":28,"c":29,"v":4},{"r":28,"c":30,"v":4},{"r":28,"c":31,"v":4},
{"r":29,"c":0,"v":5},{"r":29,"c":1,"v":5},{"r":29,"c":2,"v":0},{"r":29,"c":3,"v":0},{"r":29,"c":4,"v":0},{"r":29,"c":5,"v":0},{"r":29,"c":6,"v":0},{"r":29,"c":7,"v":9},{"r":29,"c":8,"v":9},{"r":29,"c":9,"v":9},{"r":29,"c":10,"v":9},{"r":29,"c":11,"v":0},{"r":29,"c":12,"v":0},{"r":29,"c":13,"v":0},{"r":29,"c":14,"v":0},{"r":29,"c":15,"v":4},{"r":29,"c":16,"v":4},{"r":29,"c":17,"v":4},{"r":29,"c":18,"v":4},{"r":29,"c":19,"v":4},{"r":29,"c":20,"v":5},{"r":29,"c":21,"v":5},{"r":29,"c":22,"v":4},{"r":29,"c":23,"v":4},{"r":29,"c":24,"v":4},{"r":29,"c":25,"v":4},{"r":29,"c":26,"v":4},{"r":29,"c":27,"v":4},{"r":29,"c":28,"v":9},{"r":29,"c":29,"v":9},{"r":29,"c":30,"v":4},{"r":29,"c":31,"v":4},
{"r":30,"c":0,"v":4},{"r":30,"c":1,"v":4},{"r":30,"c":2,"v":0},{"r":30,"c":3,"v":0},{"r":30,"c":4,"v":0},{"r":30,"c":5,"v":0},{"r":30,"c":6,"v":0},{"r":30,"c":7,"v":5},{"r":30,"c":8,"v":5},{"r":30,"c":9,"v":4},{"r":30,"c":10,"v":4},{"r":30,"c":11,"v":0},{"r":30,"c":12,"v":0},{"r":30,"c":13,"v":0},{"r":30,"c":14,"v":0},{"r":30,"c":15,"v":4},{"r":30,"c":16,"v":5},{"r":30,"c":17,"v":4},{"r":30,"c":18,"v":5},{"r":30,"c":19,"v":4},{"r":30,"c":20,"v":9},{"r":30,"c":21,"v":9},{"r":30,"c":22,"v":4},{"r":30,"c":23,"v":4},{"r":30,"c":24,"v":0},{"r":30,"c":25,"v":0},{"r":30,"c":26,"v":0},{"r":30,"c":27,"v":0},{"r":30,"c":28,"v":9},{"r":30,"c":29,"v":9},{"r":30,"c":30,"v":9},{"r":30,"c":31,"v":9},
{"r":31,"c":0,"v":1},{"r":31,"c":1,"v":1},{"r":31,"c":2,"v":0},{"r":31,"c":3,"v":0},{"r":31,"c":4,"v":0},{"r":31,"c":5,"v":1},{"r":31,"c":6,"v":1},{"r":31,"c":7,"v":9},{"r":31,"c":8,"v":9},{"r":31,"c":9,"v":9},{"r":31,"c":10,"v":9},{"r":31,"c":11,"v":5},{"r":31,"c":12,"v":5},{"r":31,"c":13,"v":4},{"r":31,"c":14,"v":4},{"r":31,"c":15,"v":5},{"r":31,"c":16,"v":4},{"r":31,"c":17,"v":5},{"r":31,"c":18,"v":5},{"r":31,"c":19,"v":4},{"r":31,"c":20,"v":1},{"r":31,"c":21,"v":1},{"r":31,"c":22,"v":0},{"r":31,"c":23,"v":1},{"r":31,"c":24,"v":0},{"r":31,"c":25,"v":0},{"r":31,"c":26,"v":0},{"r":31,"c":27,"v":0},{"r":31,"c":28,"v":9},{"r":31,"c":29,"v":9},{"r":31,"c":30,"v":1},{"r":31,"c":31,"v":1},
{"r":32,"c":0,"v":4},{"r":32,"c":1,"v":4},{"r":32,"c":2,"v":4},{"r":32,"c":3,"v":4},{"r":32,"c":4,"v":4},{"r":32,"c":5,"v":3},{"r":32,"c":6,"v":3},{"r":32,"c":7,"v":9},{"r":32,"c":8,"v":9},{"r":32,"c":9,"v":9},{"r":32,"c":10,"v":9},{"r":32,"c":11,"v":0},{"r":32,"c":12,"v":0},{"r":32,"c":13,"v":0},{"r":32,"c":14,"v":0},{"r":32,"c":15,"v":9},{"r":32,"c":16,"v":9},{"r":32,"c":17,"v":9},{"r":32,"c":18,"v":9},{"r":32,"c":19,"v":9},{"r":32,"c":20,"v":4},{"r":32,"c":21,"v":4},{"r":32,"c":22,"v":9},{"r":32,"c":23,"v":9},{"r":32,"c":24,"v":9},{"r":32,"c":25,"v":9},{"r":32,"c":26,"v":9},{"r":32,"c":27,"v":9},{"r":32,"c":28,"v":9},{"r":32,"c":29,"v":9},{"r":32,"c":30,"v":4},{"r":32,"c":31,"v":4},
{"r":33,"c":0,"v":4},{"r":33,"c":1,"v":4},{"r":33,"c":2,"v":5},{"r":33,"c":3,"v":5},{"r":33,"c":4,"v":5},{"r":33,"c":5,"v":4},{"r":33,"c":6,"v":4},{"r":33,"c":7,"v":9},{"r":33,"c":8,"v":9},{"r":33,"c":9,"v":9},{"r":33,"c":10,"v":9},{"r":33,"c":11,"v":0},{"r":33,"c":12,"v":0},{"r":33,"c":13,"v":0},{"r":33,"c":14,"v":0},{"r":33,"c":15,"v":9},{"r":33,"c":16,"v":9},{"r":33,"c":17,"v":9},{"r":33,"c":18,"v":9},{"r":33,"c":19,"v":9},{"r":33,"c":20,"v":0},{"r":33,"c":21,"v":0},{"r":33,"c":22,"v":0},{"r":33,"c":23,"v":0},{"r":33,"c":24,"v":4},{"r":33,"c":25,"v":4},{"r":33,"c":26,"v":4},{"r":33,"c":27,"v":4},{"r":33,"c":28,"v":9},{"r":33,"c":29,"v":9},{"r":33,"c":30,"v":4},{"r":33,"c":31,"v":4},
{"r":34,"c":0,"v":5},{"r":34,"c":1,"v":4},{"r":34,"c":2,"v":0},{"r":34,"c":3,"v":0},{"r":34,"c":4,"v":0},{"r":34,"c":5,"v":0},{"r":34,"c":6,"v":0},{"r":34,"c":7,"v":5},{"r":34,"c":8,"v":4},{"r":34,"c":9,"v":5},{"r":34,"c":10,"v":5},{"r":34,"c":11,"v":9},{"r":34,"c":12,"v":9},{"r":34,"c":13,"v":8},{"r":34,"c":14,"v":9},{"r":34,"c":15,"v":4},{"r":34,"c":16,"v":4},{"r":34,"c":17,"v":5},{"r":34,"c":18,"v":5},{"r":34,"c":19,"v":5},{"r":34,"c":20,"v":9},{"r":34,"c":21,"v":9},{"r":34,"c":22,"v":5},{"r":34,"c":23,"v":5},{"r":34,"c":24,"v":5},{"r":34,"c":25,"v":4},{"r":34,"c":26,"v":5},{"r":34,"c":27,"v":5},{"r":34,"c":28,"v":5},{"r":34,"c":29,"v":5},{"r":34,"c":30,"v":5},{"r":34,"c":31,"v":5},
{"r":35,"c":0,"v":0},{"r":35,"c":1,"v":0},{"r":35,"c":2,"v":0},{"r":35,"c":3,"v":0},{"r":35,"c":4,"v":0},{"r":35,"c":5,"v":0},{"r":35,"c":6,"v":0},{"r":35,"c":7,"v":5},{"r":35,"c":8,"v":5},{"r":35,"c":9,"v":4},{"r":35,"c":10,"v":4},{"r":35,"c":11,"v":9},{"r":35,"c":12,"v":9},{"r":35,"c":13,"v":9},{"r":35,"c":14,"v":9},{"r":35,"c":15,"v":5},{"r":35,"c":16,"v":5},{"r":35,"c":17,"v":4},{"r":35,"c":18,"v":5},{"r":35,"c":19,"v":5},{"r":35,"c":20,"v":0},{"r":35,"c":21,"v":0},{"r":35,"c":22,"v":5},{"r":35,"c":23,"v":4},{"r":35,"c":24,"v":5},{"r":35,"c":25,"v":5},{"r":35,"c":26,"v":4},{"r":35,"c":27,"v":4},{"r":35,"c":28,"v":0},{"r":35,"c":29,"v":0},{"r":35,"c":30,"v":0},{"r":35,"c":31,"v":0},
{"r":36,"c":0,"v":0},{"r":36,"c":1,"v":0},{"r":36,"c":2,"v":0},{"r":36,"c":3,"v":0},{"r":36,"c":4,"v":0},{"r":36,"c":5,"v":0},{"r":36,"c":6,"v":0},{"r":36,"c":7,"v":0},{"r":36,"c":8,"v":0},{"r":36,"c":9,"v":0},{"r":36,"c":10,"v":0},{"r":36,"c":11,"v":9},{"r":36,"c":12,"v":9},{"r":36,"c":13,"v":9},{"r":36,"c":14,"v":9},{"r":36,"c":15,"v":5},{"r":36,"c":16,"v":5},{"r":36,"c":17,"v":6},{"r":36,"c":18,"v":5},{"r":36,"c":19,"v":5},{"r":36,"c":20,"v":5},{"r":36,"c":21,"v":5},{"r":36,"c":22,"v":0},{"r":36,"c":23,"v":0},{"r":36,"c":24,"v":0},{"r":36,"c":25,"v":0},{"r":36,"c":26,"v":0},{"r":36,"c":27,"v":0},{"r":36,"c":28,"v":0},{"r":36,"c":29,"v":0},{"r":36,"c":30,"v":5},{"r":36,"c":31,"v":5},
{"r":37,"c":0,"v":0},{"r":37,"c":1,"v":0},{"r":37,"c":2,"v":0},{"r":37,"c":3,"v":0},{"r":37,"c":4,"v":0},{"r":37,"c":5,"v":0},{"r":37,"c":6,"v":0},{"r":37,"c":7,"v":0},{"r":37,"c":8,"v":0},{"r":37,"c":9,"v":0},{"r":37,"c":10,"v":0},{"r":37,"c":11,"v":0},{"r":37,"c":12,"v":0},{"r":37,"c":13,"v":0},{"r":37,"c":14,"v":0},{"r":37,"c":15,"v":0},{"r":37,"c":16,"v":0},{"r":37,"c":17,"v":0},{"r":37,"c":18,"v":0},{"r":37,"c":19,"v":0},{"r":37,"c":20,"v":0},{"r":37,"c":21,"v":0},{"r":37,"c":22,"v":4},{"r":37,"c":23,"v":5},{"r":37,"c":24,"v":5},{"r":37,"c":25,"v":5},{"r":37,"c":26,"v":5},{"r":37,"c":27,"v":5},{"r":37,"c":28,"v":5},{"r":37,"c":29,"v":5},{"r":37,"c":30,"v":0},{"r":37,"c":31,"v":0},
{"r":38,"c":0,"v":0},{"r":38,"c":1,"v":0},{"r":38,"c":2,"v":0},{"r":38,"c":3,"v":0},{"r":38,"c":4,"v":0},{"r":38,"c":5,"v":0},{"r":38,"c":6,"v":0},{"r":38,"c":7,"v":0},{"r":38,"c":8,"v":0},{"r":38,"c":9,"v":0},{"r":38,"c":10,"v":0},{"r":38,"c":11,"v":0},{"r":38,"c":12,"v":0},{"r":38,"c":13,"v":0},{"r":38,"c":14,"v":0},{"r":38,"c":15,"v":0},{"r":38,"c":16,"v":0},{"r":38,"c":17,"v":0},{"r":38,"c":18,"v":0},{"r":38,"c":19,"v":0},{"r":38,"c":20,"v":4},{"r":38,"c":21,"v":4},{"r":38,"c":22,"v":4},{"r":38,"c":23,"v":4},{"r":38,"c":24,"v":4},{"r":38,"c":25,"v":4},{"r":38,"c":26,"v":4},{"r":38,"c":27,"v":4},{"r":38,"c":28,"v":4},{"r":38,"c":29,"v":4},{"r":38,"c":30,"v":4},{"r":38,"c":31,"v":4},
{"r":39,"c":0,"v":0},{"r":39,"c":1,"v":0},{"r":39,"c":2,"v":4},{"r":39,"c":3,"v":4},{"r":39,"c":4,"v":4},{"r":39,"c":5,"v":4},{"r":39,"c":6,"v":4},{"r":39,"c":7,"v":4},{"r":39,"c":8,"v":4},{"r":39,"c":9,"v":4},{"r":39,"c":10,"v":4},{"r":39,"c":11,"v":0},{"r":39,"c":12,"v":0},{"r":39,"c":13,"v":0},{"r":39,"c":14,"v":0},{"r":39,"c":15,"v":0},{"r":39,"c":16,"v":0},{"r":39,"c":17,"v":0},{"r":39,"c":18,"v":0},{"r":39,"c":19,"v":0},{"r":39,"c":20,"v":4},{"r":39,"c":21,"v":4},{"r":39,"c":22,"v":0},{"r":39,"c":23,"v":0},{"r":39,"c":24,"v":4},{"r":39,"c":25,"v":4},{"r":39,"c":26,"v":4},{"r":39,"c":27,"v":4},{"r":39,"c":28,"v":3},{"r":39,"c":29,"v":4},{"r":39,"c":30,"v":4},{"r":39,"c":31,"v":4},
{"r":40,"c":0,"v":5},{"r":40,"c":1,"v":4},{"r":40,"c":2,"v":0},{"r":40,"c":3,"v":0},{"r":40,"c":4,"v":0},{"r":40,"c":5,"v":0},{"r":40,"c":6,"v":0},{"r":40,"c":7,"v":0},{"r":40,"c":8,"v":0},{"r":40,"c":9,"v":0},{"r":40,"c":10,"v":0},{"r":40,"c":11,"v":4},{"r":40,"c":12,"v":4},{"r":40,"c":13,"v":4},{"r":40,"c":14,"v":5},{"r":40,"c":15,"v":0},{"r":40,"c":16,"v":0},{"r":40,"c":17,"v":0},{"r":40,"c":18,"v":0},{"r":40,"c":19,"v":0},{"r":40,"c":20,"v":4},{"r":40,"c":21,"v":4},{"r":40,"c":22,"v":4},{"r":40,"c":23,"v":4},{"r":40,"c":24,"v":4},{"r":40,"c":25,"v":4},{"r":40,"c":26,"v":4},{"r":40,"c":27,"v":4},{"r":40,"c":28,"v":4},{"r":40,"c":29,"v":4},{"r":40,"c":30,"v":9},{"r":40,"c":31,"v":9},
{"r":41,"c":0,"v":5},{"r":41,"c":1,"v":5},{"r":41,"c":2,"v":0},{"r":41,"c":3,"v":0},{"r":41,"c":4,"v":0},{"r":41,"c":5,"v":0},{"r":41,"c":6,"v":0},{"r":41,"c":7,"v":5},{"r":41,"c":8,"v":5},{"r":41,"c":9,"v":5},{"r":41,"c":10,"v":5},{"r":41,"c":11,"v":5},{"r":41,"c":12,"v":5},{"r":41,"c":13,"v":5},{"r":41,"c":14,"v":6},{"r":41,"c":15,"v":0},{"r":41,"c":16,"v":0},{"r":41,"c":17,"v":0},{"r":41,"c":18,"v":0},{"r":41,"c":19,"v":0},{"r":41,"c":20,"v":0},{"r":41,"c":21,"v":0},{"r":41,"c":22,"v":9},{"r":41,"c":23,"v":9},{"r":41,"c":24,"v":5},{"r":41,"c":25,"v":6},{"r":41,"c":26,"v":5},{"r":41,"c":27,"v":5},{"r":41,"c":28,"v":5},{"r":41,"c":29,"v":5},{"r":41,"c":30,"v":0},{"r":41,"c":31,"v":0},
{"r":42,"c":0,"v":0},{"r":42,"c":1,"v":0},{"r":42,"c":2,"v":0},{"r":42,"c":3,"v":0},{"r":42,"c":4,"v":0},{"r":42,"c":5,"v":0},{"r":42,"c":6,"v":0},{"r":42,"c":7,"v":4},{"r":42,"c":8,"v":4},{"r":42,"c":9,"v":4},{"r":42,"c":10,"v":4},{"r":42,"c":11,"v":0},{"r":42,"c":12,"v":0},{"r":42,"c":13,"v":0},{"r":42,"c":14,"v":0},{"r":42,"c":15,"v":4},{"r":42,"c":16,"v":4},{"r":42,"c":17,"v":5},{"r":42,"c":18,"v":4},{"r":42,"c":19,"v":4},{"r":42,"c":20,"v":0},{"r":42,"c":21,"v":0},{"r":42,"c":22,"v":0},{"r":42,"c":23,"v":0},{"r":42,"c":24,"v":9},{"r":42,"c":25,"v":9},{"r":42,"c":26,"v":9},{"r":42,"c":27,"v":9},{"r":42,"c":28,"v":9},{"r":42,"c":29,"v":9},{"r":42,"c":30,"v":9},{"r":42,"c":31,"v":9},
{"r":43,"c":0,"v":5},{"r":43,"c":1,"v":5},{"r":43,"c":2,"v":0},{"r":43,"c":3,"v":0},{"r":43,"c":4,"v":0},{"r":43,"c":5,"v":0},{"r":43,"c":6,"v":0},{"r":43,"c":7,"v":9},{"r":43,"c":8,"v":9},{"r":43,"c":9,"v":9},{"r":43,"c":10,"v":9},{"r":43,"c":11,"v":0},{"r":43,"c":12,"v":0},{"r":43,"c":13,"v":0},{"r":43,"c":14,"v":0},{"r":43,"c":15,"v":0},{"r":43,"c":16,"v":0},{"r":43,"c":17,"v":0},{"r":43,"c":18,"v":0},{"r":43,"c":19,"v":0},{"r":43,"c":20,"v":0},{"r":43,"c":21,"v":0},{"r":43,"c":22,"v":0},{"r":43,"c":23,"v":0},{"r":43,"c":24,"v":0},{"r":43,"c":25,"v":0},{"r":43,"c":26,"v":0},{"r":43,"c":27,"v":0},{"r":43,"c":28,"v":0},{"r":43,"c":29,"v":0},{"r":43,"c":30,"v":0},{"r":43,"c":31,"v":0},
{"r":44,"c":0,"v":9},{"r":44,"c":1,"v":9},{"r":44,"c":2,"v":4},{"r":44,"c":3,"v":5},{"r":44,"c":4,"v":4},{"r":44,"c":5,"v":5},{"r":44,"c":6,"v":5},{"r":44,"c":7,"v":9},{"r":44,"c":8,"v":9},{"r":44,"c":9,"v":9},{"r":44,"c":10,"v":9},{"r":44,"c":11,"v":0},{"r":44,"c":12,"v":0},{"r":44,"c":13,"v":0},{"r":44,"c":14,"v":0},{"r":44,"c":15,"v":0},{"r":44,"c":16,"v":0},{"r":44,"c":17,"v":0},{"r":44,"c":18,"v":0},{"r":44,"c":19,"v":0},{"r":44,"c":20,"v":0},{"r":44,"c":21,"v":0},{"r":44,"c":22,"v":0},{"r":44,"c":23,"v":0},{"r":44,"c":24,"v":5},{"r":44,"c":25,"v":5},{"r":44,"c":26,"v":5},{"r":44,"c":27,"v":5},{"r":44,"c":28,"v":5},{"r":44,"c":29,"v":4},{"r":44,"c":30,"v":0},{"r":44,"c":31,"v":0},
{"r":45,"c":0,"v":8},{"r":45,"c":1,"v":9},{"r":45,"c":2,"v":8},{"r":45,"c":3,"v":8},{"r":45,"c":4,"v":8},{"r":45,"c":5,"v":8},{"r":45,"c":6,"v":9},{"r":45,"c":7,"v":0},{"r":45,"c":8,"v":0},{"r":45,"c":9,"v":0},{"r":45,"c":10,"v":0},{"r":45,"c":11,"v":4},{"r":45,"c":12,"v":4},{"r":45,"c":13,"v":4},{"r":45,"c":14,"v":5},{"r":45,"c":15,"v":0},{"r":45,"c":16,"v":0},{"r":45,"c":17,"v":0},{"r":45,"c":18,"v":0},{"r":45,"c":19,"v":0},{"r":45,"c":20,"v":0},{"r":45,"c":21,"v":0},{"r":45,"c":22,"v":0},{"r":45,"c":23,"v":0},{"r":45,"c":24,"v":4},{"r":45,"c":25,"v":4},{"r":45,"c":26,"v":5},{"r":45,"c":27,"v":5},{"r":45,"c":28,"v":4},{"r":45,"c":29,"v":5},{"r":45,"c":30,"v":4},{"r":45,"c":31,"v":4},
{"r":46,"c":0,"v":9},{"r":46,"c":1,"v":9},{"r":46,"c":2,"v":5},{"r":46,"c":3,"v":5},{"r":46,"c":4,"v":5},{"r":46,"c":5,"v":5},{"r":46,"c":6,"v":5},{"r":46,"c":7,"v":0},{"r":46,"c":8,"v":0},{"r":46,"c":9,"v":0},{"r":46,"c":10,"v":0},{"r":46,"c":11,"v":5},{"r":46,"c":12,"v":5},{"r":46,"c":13,"v":5},{"r":46,"c":14,"v":5},{"r":46,"c":15,"v":0},{"r":46,"c":16,"v":0},{"r":46,"c":17,"v":0},{"r":46,"c":18,"v":0},{"r":46,"c":19,"v":0},{"r":46,"c":20,"v":0},{"r":46,"c":21,"v":0},{"r":46,"c":22,"v":0},{"r":46,"c":23,"v":0},{"r":46,"c":24,"v":9},{"r":46,"c":25,"v":9},{"r":46,"c":26,"v":9},{"r":46,"c":27,"v":9},{"r":46,"c":28,"v":0},{"r":46,"c":29,"v":1},{"r":46,"c":30,"v":5},{"r":46,"c":31,"v":5},
{"r":47,"c":0,"v":9},{"r":47,"c":1,"v":9},{"r":47,"c":2,"v":4},{"r":47,"c":3,"v":3},{"r":47,"c":4,"v":3},{"r":47,"c":5,"v":3},{"r":47,"c":6,"v":3},{"r":47,"c":7,"v":0},{"r":47,"c":8,"v":0},{"r":47,"c":9,"v":0},{"r":47,"c":10,"v":0},{"r":47,"c":11,"v":9},{"r":47,"c":12,"v":9},{"r":47,"c":13,"v":9},{"r":47,"c":14,"v":9},{"r":47,"c":15,"v":0},{"r":47,"c":16,"v":0},{"r":47,"c":17,"v":0},{"r":47,"c":18,"v":0},{"r":47,"c":19,"v":0},{"r":47,"c":20,"v":0},{"r":47,"c":21,"v":0},{"r":47,"c":22,"v":4},{"r":47,"c":23,"v":4},{"r":47,"c":24,"v":0},{"r":47,"c":25,"v":0},{"r":47,"c":26,"v":0},{"r":47,"c":27,"v":0},{"r":47,"c":28,"v":4},{"r":47,"c":29,"v":5},{"r":47,"c":30,"v":0},{"r":47,"c":31,"v":0},
{"r":48,"c":0,"v":8},{"r":48,"c":1,"v":8},{"r":48,"c":2,"v":9},{"r":48,"c":3,"v":9},{"r":48,"c":4,"v":9},{"r":48,"c":5,"v":9},{"r":48,"c":6,"v":9},{"r":48,"c":7,"v":0},{"r":48,"c":8,"v":0},{"r":48,"c":9,"v":0},{"r":48,"c":10,"v":0},{"r":48,"c":11,"v":0},{"r":48,"c":12,"v":0},{"r":48,"c":13,"v":0},{"r":48,"c":14,"v":0},{"r":48,"c":16,"v":0},{"r":48,"c":17,"v":0},{"r":48,"c":18,"v":0},{"r":48,"c":19,"v":0},{"r":48,"c":20,"v":9},{"r":48,"c":21,"v":9},{"r":48,"c":22,"v":4},{"r":48,"c":23,"v":4},{"r":48,"c":24,"v":0},{"r":48,"c":25,"v":0},{"r":48,"c":26,"v":0},{"r":48,"c":28,"v":4},{"r":48,"c":29,"v":4},{"r":48,"c":31,"v":0},
{"r":49,"c":0,"v":0},{"r":49,"c":1,"v":0},{"r":49,"c":2,"v":9},{"r":49,"c":3,"v":9},{"r":49,"c":4,"v":9},{"r":49,"c":5,"v":9},{"r":49,"c":6,"v":9},{"r":49,"c":7,"v":0},{"r":49,"c":8,"v":0},{"r":49,"c":9,"v":0},{"r":49,"c":10,"v":0},{"r":49,"c":11,"v":0},{"r":49,"c":12,"v":0},{"r":49,"c":13,"v":0},{"r":49,"c":14,"v":0},{"r":49,"c":15,"v":0},{"r":49,"c":16,"v":0},{"r":49,"c":17,"v":0},{"r":49,"c":18,"v":0},{"r":49,"c":19,"v":0},{"r":49,"c":20,"v":9},{"r":49,"c":21,"v":9},{"r":49,"c":22,"v":5},{"r":49,"c":23,"v":6},{"r":49,"c":24,"v":0},{"r":49,"c":25,"v":0},{"r":49,"c":26,"v":0},{"r":49,"c":27,"v":0},{"r":49,"c":28,"v":0},{"r":49,"c":29,"v":0},{"r":49,"c":30,"v":0},{"r":49,"c":31,"v":0},
{"r":50,"c":0,"v":4},{"r":50,"c":1,"v":4},{"r":50,"c":2,"v":4},{"r":50,"c":3,"v":4},{"r":50,"c":4,"v":4},{"r":50,"c":5,"v":4},{"r":50,"c":6,"v":4},{"r":50,"c":7,"v":4},{"r":50,"c":8,"v":4},{"r":50,"c":9,"v":4},{"r":50,"c":10,"v":4},{"r":50,"c":11,"v":0},{"r":50,"c":12,"v":0},{"r":50,"c":13,"v":0},{"r":50,"c":14,"v":0},{"r":50,"c":15,"v":0},{"r":50,"c":16,"v":0},{"r":50,"c":17,"v":0},{"r":50,"c":18,"v":0},{"r":50,"c":19,"v":0},{"r":50,"c":20,"v":9},{"r":50,"c":21,"v":9},{"r":50,"c":22,"v":4},{"r":50,"c":23,"v":4},{"r":50,"c":24,"v":0},{"r":50,"c":25,"v":0},{"r":50,"c":26,"v":0},{"r":50,"c":27,"v":0},{"r":50,"c":28,"v":0},{"r":50,"c":29,"v":0},{"r":50,"c":30,"v":0},{"r":50,"c":31,"v":0},
{"r":51,"c":0,"v":4},{"r":51,"c":1,"v":4},{"r":51,"c":2,"v":6},{"r":51,"c":3,"v":6},{"r":51,"c":4,"v":6},{"r":51,"c":5,"v":6},{"r":51,"c":6,"v":6},{"r":51,"c":7,"v":4},{"r":51,"c":8,"v":5},{"r":51,"c":9,"v":5},{"r":51,"c":10,"v":4},{"r":51,"c":11,"v":0},{"r":51,"c":12,"v":0},{"r":51,"c":13,"v":0},{"r":51,"c":14,"v":0},{"r":51,"c":15,"v":5},{"r":51,"c":16,"v":4},{"r":51,"c":17,"v":4},{"r":51,"c":18,"v":4},{"r":51,"c":19,"v":5},{"r":51,"c":20,"v":9},{"r":51,"c":21,"v":9},{"r":51,"c":22,"v":4},{"r":51,"c":23,"v":4},{"r":51,"c":24,"v":0},{"r":51,"c":25,"v":0},{"r":51,"c":26,"v":0},{"r":51,"c":27,"v":0},{"r":51,"c":28,"v":5},{"r":51,"c":29,"v":4},{"r":51,"c":30,"v":0},{"r":51,"c":31,"v":0},
{"r":52,"c":0,"v":4},{"r":52,"c":1,"v":5},{"r":52,"c":2,"v":8},{"r":52,"c":3,"v":8},{"r":52,"c":4,"v":9},{"r":52,"c":5,"v":8},{"r":52,"c":6,"v":9},{"r":52,"c":7,"v":4},{"r":52,"c":8,"v":4},{"r":52,"c":9,"v":4},{"r":52,"c":10,"v":4},{"r":52,"c":11,"v":0},{"r":52,"c":12,"v":0},{"r":52,"c":13,"v":0},{"r":52,"c":14,"v":0},{"r":52,"c":15,"v":0},{"r":52,"c":16,"v":0},{"r":52,"c":17,"v":1},{"r":52,"c":18,"v":0},{"r":52,"c":19,"v":1},{"r":52,"c":20,"v":8},{"r":52,"c":21,"v":8},{"r":52,"c":22,"v":4},{"r":52,"c":23,"v":5},{"r":52,"c":24,"v":4},{"r":52,"c":25,"v":4},{"r":52,"c":26,"v":5},{"r":52,"c":27,"v":4},{"r":52,"c":28,"v":0},{"r":52,"c":29,"v":1},{"r":52,"c":30,"v":4},{"r":52,"c":31,"v":4},
{"r":53,"c":0,"v":5},{"r":53,"c":1,"v":5},{"r":53,"c":2,"v":9},{"r":53,"c":3,"v":9},{"r":53,"c":4,"v":9},{"r":53,"c":5,"v":9},{"r":53,"c":6,"v":9},{"r":53,"c":7,"v":5},{"r":53,"c":8,"v":4},{"r":53,"c":9,"v":5},{"r":53,"c":10,"v":5},{"r":53,"c":11,"v":0},{"r":53,"c":12,"v":0},{"r":53,"c":13,"v":0},{"r":53,"c":14,"v":0},{"r":53,"c":15,"v":0},{"r":53,"c":16,"v":0},{"r":53,"c":17,"v":0},{"r":53,"c":18,"v":0},{"r":53,"c":19,"v":0},{"r":53,"c":20,"v":4},{"r":53,"c":21,"v":5},{"r":53,"c":22,"v":9},{"r":53,"c":23,"v":9},{"r":53,"c":24,"v":4},{"r":53,"c":25,"v":4},{"r":53,"c":26,"v":5},{"r":53,"c":27,"v":4},{"r":53,"c":28,"v":0},{"r":53,"c":29,"v":0},{"r":53,"c":30,"v":0},{"r":53,"c":31,"v":0},
{"r":54,"c":0,"v":9},{"r":54,"c":1,"v":9},{"r":54,"c":2,"v":9},{"r":54,"c":3,"v":9},{"r":54,"c":4,"v":9},{"r":54,"c":5,"v":9},{"r":54,"c":6,"v":9},{"r":54,"c":7,"v":9},{"r":54,"c":8,"v":9},{"r":54,"c":9,"v":9},{"r":54,"c":10,"v":9},{"r":54,"c":11,"v":0},{"r":54,"c":12,"v":0},{"r":54,"c":13,"v":0},{"r":54,"c":14,"v":0},{"r":54,"c":15,"v":0},{"r":54,"c":16,"v":0},{"r":54,"c":17,"v":0},{"r":54,"c":18,"v":0},{"r":54,"c":19,"v":0},{"r":54,"c":20,"v":4},{"r":54,"c":21,"v":5},{"r":54,"c":22,"v":5},{"r":54,"c":23,"v":5},{"r":54,"c":24,"v":0},{"r":54,"c":25,"v":0},{"r":54,"c":26,"v":0},{"r":54,"c":27,"v":0},{"r":54,"c":28,"v":4},{"r":54,"c":29,"v":5},{"r":54,"c":30,"v":4},{"r":54,"c":31,"v":5},
{"r":55,"c":0,"v":9},{"r":55,"c":1,"v":9},{"r":55,"c":2,"v":3},{"r":55,"c":3,"v":3},{"r":55,"c":4,"v":4},{"r":55,"c":5,"v":3},{"r":55,"c":6,"v":3},{"r":55,"c":7,"v":4},{"r":55,"c":8,"v":4},{"r":55,"c":9,"v":4},{"r":55,"c":10,"v":4},{"r":55,"c":11,"v":0},{"r":55,"c":12,"v":0},{"r":55,"c":13,"v":0},{"r":55,"c":14,"v":0},{"r":55,"c":15,"v":4},{"r":55,"c":16,"v":4},{"r":55,"c":17,"v":4},{"r":55,"c":18,"v":4},{"r":55,"c":19,"v":5},{"r":55,"c":20,"v":4},{"r":55,"c":21,"v":4},{"r":55,"c":22,"v":9},{"r":55,"c":23,"v":9},{"r":55,"c":24,"v":4},{"r":55,"c":25,"v":4},{"r":55,"c":26,"v":4},{"r":55,"c":27,"v":4},{"r":55,"c":28,"v":0},{"r":55,"c":29,"v":0},{"r":55,"c":30,"v":9},{"r":55,"c":31,"v":9},
{"r":56,"c":0,"v":9},{"r":56,"c":1,"v":9},{"r":56,"c":2,"v":0},{"r":56,"c":3,"v":0},{"r":56,"c":4,"v":0},{"r":56,"c":5,"v":0},{"r":56,"c":7,"v":0},{"r":56,"c":8,"v":0},{"r":56,"c":9,"v":0},{"r":56,"c":10,"v":0},{"r":56,"c":11,"v":0},{"r":56,"c":12,"v":0},{"r":56,"c":13,"v":0},{"r":56,"c":14,"v":0},{"r":56,"c":15,"v":9},{"r":56,"c":16,"v":9},{"r":56,"c":17,"v":9},{"r":56,"c":18,"v":9},{"r":56,"c":19,"v":9},{"r":56,"c":20,"v":9},{"r":56,"c":21,"v":9},{"r":56,"c":22,"v":0},{"r":56,"c":23,"v":0},{"r":56,"c":24,"v":9},{"r":56,"c":25,"v":9},{"r":56,"c":26,"v":9},{"r":56,"c":27,"v":9},{"r":56,"c":28,"v":4},{"r":56,"c":29,"v":4},{"r":56,"c":30,"v":0},{"r":56,"c":31,"v":0},
{"r":57,"c":0,"v":5},{"r":57,"c":1,"v":5},{"r":57,"c":2,"v":1},{"r":57,"c":3,"v":0},{"r":57,"c":4,"v":1},{"r":57,"c":5,"v":0},{"r":57,"c":6,"v":0},{"r":57,"c":7,"v":0},{"r":57,"c":8,"v":0},{"r":57,"c":9,"v":0},{"r":57,"c":10,"v":0},{"r":57,"c":11,"v":0},{"r":57,"c":12,"v":0},{"r":57,"c":13,"v":0},{"r":57,"c":14,"v":0},{"r":57,"c":15,"v":9},{"r":57,"c":16,"v":9},{"r":57,"c":17,"v":9},{"r":57,"c":18,"v":9},{"r":57,"c":19,"v":9},{"r":57,"c":20,"v":9},{"r":57,"c":21,"v":9},{"r":57,"c":22,"v":9},{"r":57,"c":23,"v":9},{"r":57,"c":24,"v":9},{"r":57,"c":25,"v":9},{"r":57,"c":26,"v":9},{"r":57,"c":27,"v":9},{"r":57,"c":28,"v":5},{"r":57,"c":29,"v":5},{"r":57,"c":30,"v":5},{"r":57,"c":31,"v":5},
{"r":58,"c":0,"v":0},{"r":58,"c":1,"v":0},{"r":58,"c":2,"v":9},{"r":58,"c":3,"v":9},{"r":58,"c":4,"v":9},{"r":58,"c":5,"v":9},{"r":58,"c":6,"v":9},{"r":58,"c":7,"v":9},{"r":58,"c":8,"v":9},{"r":58,"c":9,"v":9},{"r":58,"c":10,"v":9},{"r":58,"c":11,"v":9},{"r":58,"c":12,"v":9},{"r":58,"c":13,"v":9},{"r":58,"c":14,"v":9},{"r":58,"c":15,"v":9},{"r":58,"c":16,"v":9},{"r":58,"c":17,"v":9},{"r":58,"c":18,"v":9},{"r":58,"c":19,"v":9},{"r":58,"c":20,"v":0},{"r":58,"c":21,"v":0},{"r":58,"c":22,"v":0},{"r":58,"c":23,"v":0},{"r":58,"c":24,"v":0},{"r":58,"c":25,"v":0},{"r":58,"c":26,"v":0},{"r":58,"c":27,"v":0},{"r":58,"c":28,"v":0},{"r":58,"c":29,"v":0},{"r":58,"c":30,"v":9},{"r":58,"c":31,"v":9}
]},
"vconcat":[
{"width":722,"height":1276,
"view":{"fill":"#EBEBEB","stroke":null},
"data":{"name":"cells"},
"transform":[{"lookup":"r","from":{"data":{"name":"snps"},"key":"r","fields":["snp"]}},{"lookup":"c","from":{"data":{"name":"samples"},"key":"c","fields":["sample"]}}],
"mark":{"type":"rect","strokeWidth":0.6},
"encoding":{
"x":{"field":"sample","type":"ordinal","sort":{"field":"c","op":"min"},"scale":{"paddingInner":0,"paddingOuter":0.125},"axis":{"title":null,"labels":false,"ticks":false,"domain":false,"grid":true,"gridColor":"#FFFFFF","gridWidth":2.2,"bandPosition":0.5,"zindex":0}},
"y":{"field":"snp","type":"ordinal","sort":{"field":"r","op":"min"},"scale":{"paddingInner":0,"paddingOuter":0.14},"axis":{"title":null,"labelFontSize":21,"labelColor":"#1A1A1A","tickSize":5.5,"tickWidth":1.6,"tickColor":"#333333","labelPadding":7,"domain":false,"grid":true,"gridColor":"#FFFFFF","gridWidth":2.2,"bandPosition":0.5,"zindex":0}},
"stroke":{"field":"v","type":"ordinal","legend":null,"scale":{"domain":[0,1,3,4,5,6,7,8,9],"range":["#F7FBFF","#DEEBF7","#C6DBEF","#9ECAE1","#6BAED6","#4292C6","#2171B5","#08519C","#08306B"]}},
"color":{"field":"v","type":"ordinal","scale":{"domain":[0,1,3,4,5,6,7,8,9],"range":["#F7FBFF","#DEEBF7","#C6DBEF","#9ECAE1","#6BAED6","#4292C6","#2171B5","#08519C","#08306B"]},
"legend":{"title":"β-Value","orient":"none","legendX":755.7,"legendY":417,"padding":0,"titleFontSize":22,"titleFontWeight":"normal","titleColor":"#000000","titleAnchor":"end","titlePadding":7,"labelFontSize":21,"labelColor":"#000000","labelOffset":11,"symbolType":"square","symbolSize":2025,"symbolStrokeWidth":0,"symbolOpacity":1,"rowPadding":1.1,
"labelExpr":"['0 - 0.1','0.1 - 0.2','0.2 - 0.3','0.3 - 0.4','0.4 - 0.5','0.5 - 0.6','0.6 - 0.7','0.7 - 0.8','0.8 - 0.9','0.9 - 1'][datum.value]"}}
}},
{"width":722,"height":55.5,
"view":{"fill":"#FFFFFF","stroke":null},
"data":{"name":"annot"},
"transform":[{"lookup":"c","from":{"data":{"name":"samples"},"key":"c","fields":["sample"]}}],
"mark":{"type":"rect","strokeWidth":0.6},
"encoding":{
"x":{"field":"sample","type":"ordinal","sort":{"field":"c","op":"min"},"scale":{"paddingInner":0,"paddingOuter":0.125},"axis":{"title":null,"labelAngle":270,"labelFontSize":20,"labelColor":"#1A1A1A","tickSize":5.5,"tickWidth":1.6,"tickColor":"#333333","labelPadding":5,"domain":false,"grid":false,"offset":3,"bandPosition":0.5}},
"y":{"field":"t","type":"nominal","sort":["Individual","Cell or tissue type","Platform"],"scale":{"paddingInner":0,"paddingOuter":0},"axis":{"title":null,"orient":"right","labelFontSize":20,"labelColor":"#000000","ticks":false,"tickSize":0,"domain":false,"grid":false,"labelPadding":12}},
"stroke":{"field":"k","type":"nominal","legend":null,"scale":{"domain":["T-76","LNCaP","Patient C","Patient B","PrEC","T-75","T-73","Patient A","T-82","T-80","Tumour","NAF","CAF","EPIC","HM450"],"range":["#FFF38B","#EA673D","#25B574","#8DC540","#41B8C2","#FBB03B","#F7931E","#93D3F1","#9E005D","#D4145A","#FCEC21","#006838","#8AA60F","#009FE0","#E10A16"]}},
"color":{"field":"k","type":"nominal","legend":null,"scale":{"domain":["T-76","LNCaP","Patient C","Patient B","PrEC","T-75","T-73","Patient A","T-82","T-80","Tumour","NAF","CAF","EPIC","HM450"],"range":["#FFF38B","#EA673D","#25B574","#8DC540","#41B8C2","#FBB03B","#F7931E","#93D3F1","#9E005D","#D4145A","#FCEC21","#006838","#8AA60F","#009FE0","#E10A16"]}}
}}
]}
